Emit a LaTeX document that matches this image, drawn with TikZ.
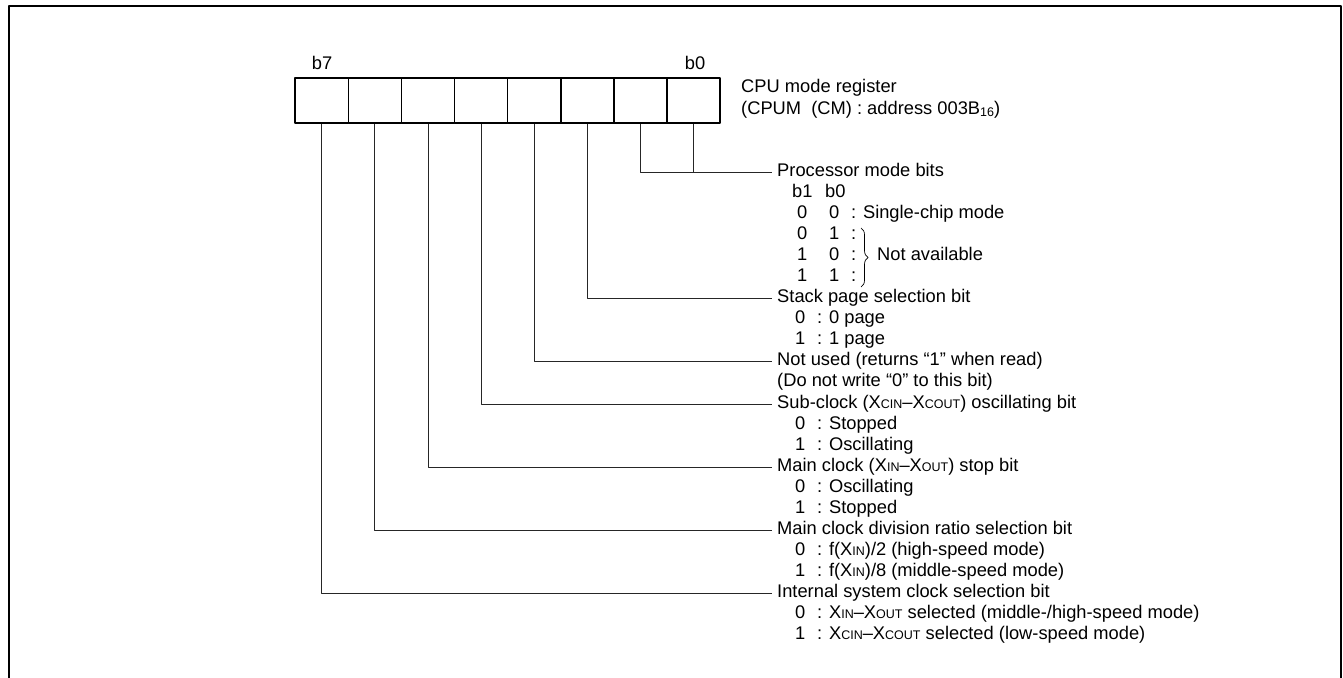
\documentclass[tikz,border=0pt]{standalone}
\usepackage{fontspec}
\setmainfont{Liberation Sans}
\usetikzlibrary{decorations.pathreplacing}
\newcommand{\lsub}[1]{{\fontsize{12.5}{12.5}\selectfont #1}}
\tikzset{
  regcell/.style={draw, line width=1.6pt, minimum width=53.1pt, minimum height=45pt, inner sep=0pt},
  head/.style={anchor=west, inner xsep=5pt, inner ysep=0pt, text height=13pt, text depth=4pt},
  row/.style={anchor=west, inner sep=0pt, text height=13pt, text depth=4pt},
  lead/.style={line width=0.9pt, draw=black!85},
}
\begin{document}
\begin{tikzpicture}[x=1pt, y=-1pt, font=\fontsize{18.3}{21}\selectfont, line join=round]
	\useasboundingbox (0,0) rectangle (1343,677);
	% outer frame, open at the bottom
	\draw[line width=2.4pt] (9,690) -- (9,6) -- (1341,6) -- (1341,690);
	% the register
	\foreach \i in {0,...,7}
		\node[regcell] (c\i) at ({693.45-53.1*\i},100.5) {};
	\node (b7) at (322,63) {b7};
	\node (b0) at (695,63) {b0};
	\node[anchor=west, inner sep=0pt] (regname) at (741,88) {CPU mode register};
	\node[anchor=west, inner sep=0pt] (regaddr) at (741,110)
		{(CPUM\ \ (CM) : address 003B\raisebox{-2pt}{\lsub{16}})};
	% bit descriptions
	\node[head] (pm) at (772,172) {Processor mode bits};
	\node[row] (pmh) at (792,193) {\makebox[33pt][l]{b1}b0};
	\node[row] (pm0) at (797,214) {\makebox[32pt][l]{0}\makebox[22pt][l]{0}: Single-chip mode};
	\node[row] (pm1) at (797,235) {\makebox[32pt][l]{0}\makebox[22pt][l]{1}:};
	\node[row] (pm2) at (797,256) {\makebox[32pt][l]{1}\makebox[22pt][l]{0}:};
	\node[row] (pm3) at (797,277) {\makebox[32pt][l]{1}\makebox[22pt][l]{1}:};
	\draw[decorate, decoration={brace, amplitude=7pt}, line width=0.7pt] (861,228) -- (861,287);
	\node[row] (na) at (877,256) {Not available};
	\node[head] (sp) at (772,298) {Stack page selection bit};
	\node[row] (sp0) at (795,319) {\makebox[22pt][l]{0}: 0 page};
	\node[row] (sp1) at (795,340) {\makebox[22pt][l]{1}: 1 page};
	\node[head] (nu) at (772,361) {Not used (returns “1” when read)};
	\node[row] (nu1) at (777,382) {(Do not write “0” to this bit)};
	\node[head] (sc) at (772,404) {Sub-clock (X\lsub{CIN}–X\lsub{COUT}) oscillating bit};
	\node[row] (sc0) at (795,425) {\makebox[22pt][l]{0}: Stopped};
	\node[row] (sc1) at (795,446) {\makebox[22pt][l]{1}: Oscillating};
	\node[head] (mc) at (772,467) {Main clock (X\lsub{IN}–X\lsub{OUT}) stop bit};
	\node[row] (mc0) at (795,488) {\makebox[22pt][l]{0}: Oscillating};
	\node[row] (mc1) at (795,509) {\makebox[22pt][l]{1}: Stopped};
	\node[head] (dr) at (772,530) {Main clock division ratio selection bit};
	\node[row] (dr0) at (795,551) {\makebox[22pt][l]{0}: f(X\lsub{IN})/2 (high-speed mode)};
	\node[row] (dr1) at (795,572) {\makebox[22pt][l]{1}: f(X\lsub{IN})/8 (middle-speed mode)};
	\node[head] (is) at (772,593) {Internal system clock selection bit};
	\node[row] (is0) at (795,614) {\makebox[22pt][l]{0}: X\lsub{IN}–X\lsub{OUT} selected (middle-/high-speed mode)};
	\node[row] (is1) at (795,635) {\makebox[22pt][l]{1}: X\lsub{CIN}–X\lsub{COUT} selected (low-speed mode)};
	% leader lines
	\draw[lead] (c1.south) |- (pm.west);
	\draw[lead] (c0.south) -- (c0.south |- pm.west);
	\draw[lead] (c2.south) |- (sp.west);
	\draw[lead] (c3.south) |- (nu.west);
	\draw[lead] (c4.south) |- (sc.west);
	\draw[lead] (c5.south) |- (mc.west);
	\draw[lead] (c6.south) |- (dr.west);
	\draw[lead] (c7.south) |- (is.west);
\end{tikzpicture}
\end{document}
